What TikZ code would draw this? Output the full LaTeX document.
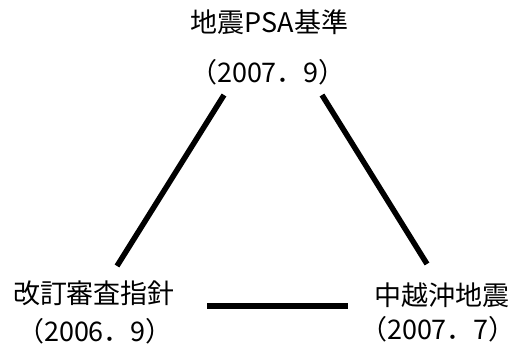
\documentclass[tikz,border=0pt]{standalone}
\usepackage{fontspec}
\newfontfamily\jp{Noto Sans CJK JP}
\begin{document}
\begin{tikzpicture}[x=1pt,y=1pt,
  lbl/.style={font=\jp\fontsize{27}{30}\selectfont, inner sep=0pt},
  bar/.style={line width=5.5pt}]
\useasboundingbox (0,0) rectangle (515,356);
\node[lbl] (t1) at (269.5,334) {地震PSA基準};
\node[lbl] (t2) at (268,284) {（2007．9）};
\node[lbl] (l1) at (94,63) {改訂審査指針};
\node[lbl] (l2) at (95,25) {（2006．9）};
\node[lbl] (r1) at (442,61) {中越沖地震};
\node[lbl] (r2) at (438,27) {（2007．7）};
\coordinate (la) at (224,261);
\coordinate (lb) at (117,90);
\coordinate (ra) at (322,261);
\coordinate (rb) at (427,92);
\coordinate (ha) at (207,50);
\coordinate (hb) at (348,50);
\draw[bar] (la) -- (lb);
\draw[bar] (ra) -- (rb);
\draw[bar] (ha) -- (hb);
\end{tikzpicture}
\end{document}
